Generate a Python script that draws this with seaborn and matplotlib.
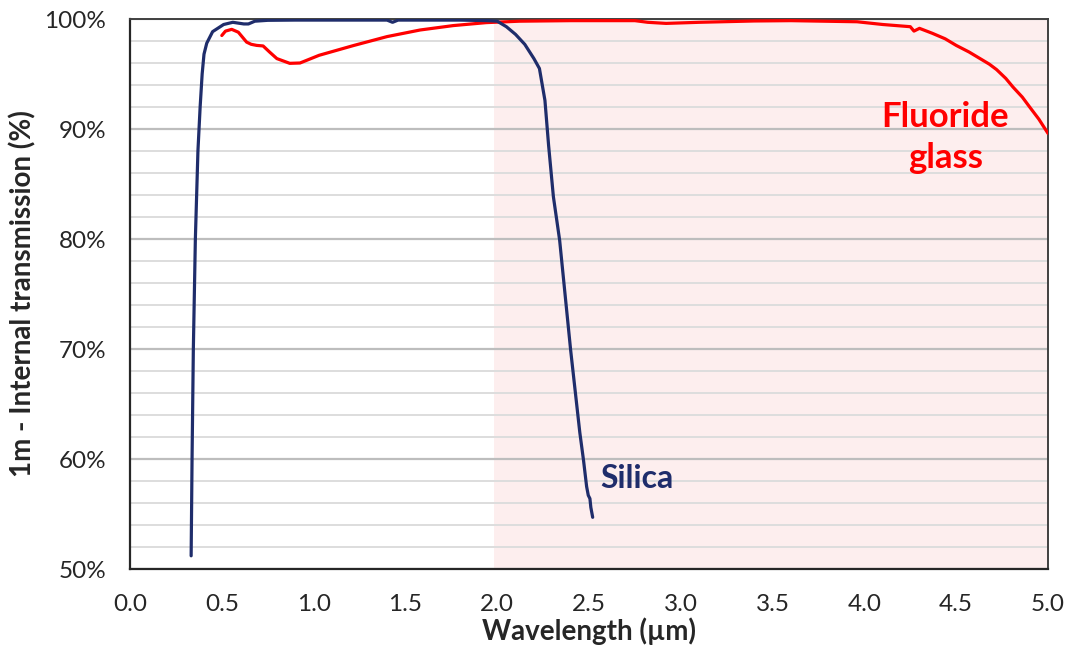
import numpy as np
import pandas as pd
import matplotlib
matplotlib.use("Agg")
import matplotlib.pyplot as plt
from matplotlib.ticker import MultipleLocator, FuncFormatter
import seaborn as sns

# ---- data ----
silica_wl = [0.333, 0.338, 0.345, 0.356, 0.370, 0.382, 0.393, 0.403, 0.418, 0.45, 0.51,
             0.56, 0.62, 0.645, 0.68, 0.75, 0.9, 1.1, 1.3, 1.40, 1.43, 1.46, 1.6, 1.8,
             1.95, 2.0, 2.05, 2.10, 2.15, 2.20, 2.23, 2.26, 2.28, 2.306, 2.34, 2.40,
             2.45, 2.47, 2.487, 2.496, 2.505, 2.51, 2.52]
silica_tr = [51.2, 60.0, 70.0, 80.0, 88.0, 92.0, 95.0, 96.8, 97.8, 98.85, 99.5,
             99.7, 99.55, 99.55, 99.8, 99.88, 99.9, 99.9, 99.9, 99.9, 99.7, 99.9, 99.9, 99.9,
             99.85, 99.8, 99.3, 98.6, 97.7, 96.4, 95.5, 92.6, 88.5, 83.85, 79.9, 69.9,
             62.4, 59.9, 57.5, 56.7, 56.4, 55.6, 54.7]

fluoride_wl = [0.50, 0.52, 0.554, 0.59, 0.635, 0.66, 0.69, 0.725, 0.76, 0.80, 0.87, 0.926,
               1.03, 1.22, 1.40, 1.58, 1.76, 1.94, 2.12, 2.4, 2.75, 2.82, 2.92, 3.1,
               3.4, 3.6, 3.96, 4.1, 4.25, 4.27, 4.30, 4.37, 4.44, 4.50, 4.57, 4.63,
               4.68, 4.72, 4.77, 4.81, 4.86, 4.90, 4.95, 5.0]
fluoride_tr = [98.5, 98.9, 99.06, 98.8, 97.9, 97.7, 97.6, 97.55, 97.0, 96.4, 95.97, 96.0,
               96.7, 97.6, 98.4, 99.0, 99.4, 99.67, 99.8, 99.85, 99.85, 99.7, 99.6, 99.7,
               99.82, 99.85, 99.75, 99.5, 99.3, 98.9, 99.15, 98.7, 98.2, 97.6, 97.0, 96.4,
               95.9, 95.4, 94.6, 93.8, 92.9, 92.0, 90.9, 89.6]

x_ticks = [0.0, 0.5, 1.0, 1.5, 2.0, 2.5, 3.0, 3.5, 4.0, 4.5, 5.0]
y_ticks = [50, 60, 70, 80, 90, 100]
shade_range = [1.98, 5.0]

NAVY = "#1F2D6B"
RED = "#FF0000"

sns.set_theme(style="white")
plt.rcParams["font.family"] = ["Lato", "DejaVu Sans"]

fig = plt.figure(figsize=(10.71, 6.55), dpi=100)
ax = fig.add_axes([130 / 1071, 1 - 569 / 655, (1048 - 130) / 1071, (569 - 19) / 655])

ax.axvspan(shade_range[0], shade_range[1], color="#FDEEEE", zorder=0, lw=0)

df_s = pd.DataFrame({"wl": silica_wl, "tr": silica_tr})
df_f = pd.DataFrame({"wl": fluoride_wl, "tr": fluoride_tr})
sns.lineplot(data=df_f, x="wl", y="tr", sort=False, estimator=None, color=RED,
             lw=2.3, ax=ax, zorder=3)
sns.lineplot(data=df_s, x="wl", y="tr", sort=False, estimator=None, color=NAVY,
             lw=2.3, ax=ax, zorder=4)

ax.set_xlim(0, 5)
ax.set_ylim(50, 100)
ax.set_xticks(x_ticks)
ax.set_yticks(y_ticks)
ax.xaxis.set_major_formatter(FuncFormatter(lambda v, p: f"{v:.1f}"))
ax.yaxis.set_major_formatter(FuncFormatter(lambda v, p: f"{v:.0f}%"))
ax.yaxis.set_minor_locator(MultipleLocator(2))

ax.set_axisbelow(True)
ax.grid(False)
ax.grid(axis="y", which="major", color="#BDBDBD", lw=1.6)
ax.grid(axis="y", which="minor", color="#DDDDDD", lw=1.4)

ax.tick_params(axis="both", which="major", direction="out", length=8, width=1.5,
               color="#262626", labelsize=17.5, labelcolor="#262626")
ax.tick_params(axis="x", pad=10)
ax.tick_params(axis="y", pad=9)
ax.tick_params(which="minor", left=False, bottom=False)

for side in ["left", "bottom"]:
    ax.spines[side].set_color("#262626")
    ax.spines[side].set_linewidth(1.6)
for side in ["top", "right"]:
    ax.spines[side].set_color("#404040")
    ax.spines[side].set_linewidth(1.4)
    ax.spines[side].set_visible(True)

ax.set_xlabel("Wavelength (µm)", fontsize=20, fontweight="bold", color="#262626", labelpad=2)
ax.set_ylabel("1m - Internal transmission (%)", fontsize=20, fontweight="bold",
              color="#262626", labelpad=6)

ax.text(4.44, 89.2, "Fluoride\nglass", color=RED, fontsize=25, fontweight="bold",
        ha="center", va="center", linespacing=1.35)
ax.text(2.56, 58.2, "Silica", color=NAVY, fontsize=23, fontweight="bold",
        ha="left", va="center")

fig.savefig("out.png", dpi=100)
